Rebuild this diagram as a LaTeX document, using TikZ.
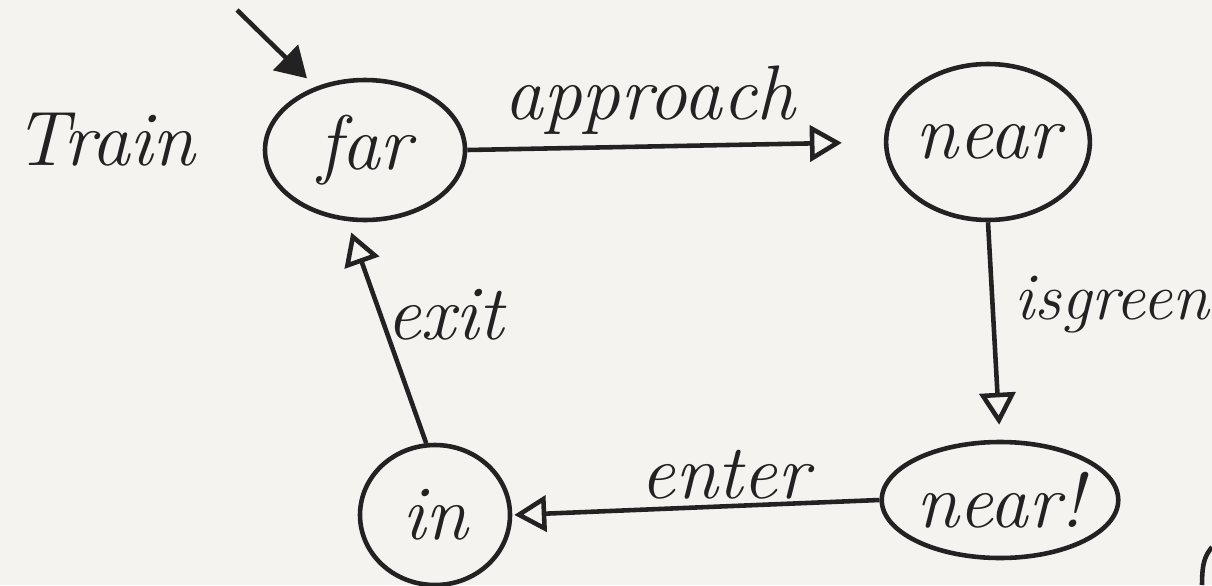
\documentclass[tikz,border=0pt]{standalone}
\usetikzlibrary{arrows.meta,shapes.geometric}
\definecolor{paper}{HTML}{F4F3EF}
\definecolor{ink}{HTML}{222222}
\begin{document}
\begin{tikzpicture}[
  state/.style={draw=ink, ellipse, line width=1.3pt, inner sep=0pt, font=\fontsize{22}{26}\selectfont\itshape, text=ink},
  lbl/.style={font=\fontsize{22}{26}\selectfont\itshape, text=ink},
  trans/.style={draw=ink, line width=1.3pt, -{Triangle[open, length=0.32cm, width=0.36cm, line width=1.3pt]}},
  initarr/.style={draw=ink, line width=1.3pt, -{Triangle[length=0.3cm, width=0.35cm]}}
]
\fill[paper] (0,0) rectangle (12.12,5.85);
\useasboundingbox (0,0) rectangle (12.12,5.85);

\node[state, minimum width=2.0cm, minimum height=1.4cm] (far) at (3.65,4.35) {far};
\node[state, minimum width=1.96cm, minimum height=1.56cm] (near) at (9.88,4.43) {near};
\node[state, minimum width=1.9cm, minimum height=1.16cm] (nearx) at (10.0,0.85) {near!};
\node[state, minimum width=1.5cm, minimum height=1.4cm] (in) at (4.35,0.70) {in};

\coordinate (init) at (2.37,5.75);
\draw[initarr, shorten >=0.12cm] (init) -- (far.128);

\draw[trans, shorten >=0.42cm] (far.east) -- (near.west);
\draw[trans, shorten >=0.15cm] (near.south) -- (nearx.north);
\draw[trans, shorten >=0.02cm] (nearx.west) -- (in.east);
\draw[trans, shorten >=0.12cm] (in.97) -- (far.256);

\node[lbl] (lapp) at (6.5,4.85) {approach};
\node[lbl, font=\fontsize{19}{23}\selectfont\itshape, anchor=west] (lisg) at (10.02,2.8) {isgreen};
\node[lbl] (lent) at (7.25,1.1) {enter};
\node[lbl] (lexit) at (4.45,2.7) {exit};
\node[lbl] (ltrain) at (1.05,4.45) {Train};

\draw[ink, line width=1.3pt] (12.02,0.0) .. controls (12.02,0.25) and (12.06,0.3) .. (12.12,0.38);
\end{tikzpicture}
\end{document}
